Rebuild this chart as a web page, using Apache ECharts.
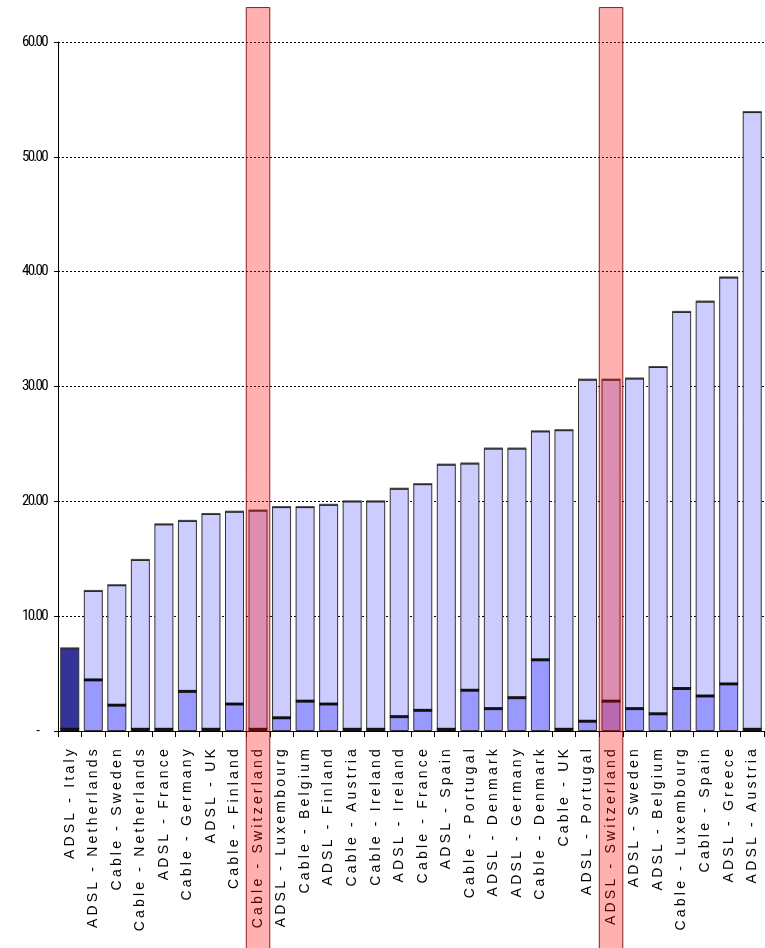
<!DOCTYPE html>
<html>
<head>
<meta charset="utf-8">
<script src="https://cdn.jsdelivr.net/npm/echarts@6/dist/echarts.min.js"></script>
<style>
  html, body { margin: 0; padding: 0; background: #fff; }
  #main { width: 765px; height: 948px; }
</style>
</head>
<body>
<div id="main"></div>
<script>
const categories = [
  'ADSL - Italy', 'ADSL - Netherlands', 'Cable - Sweden', 'Cable - Netherlands',
  'ADSL - France', 'Cable - Germany', 'ADSL - UK', 'Cable - Finland',
  'Cable - Switzerland', 'ADSL - Luxembourg', 'Cable - Belgium', 'ADSL - Finland',
  'Cable - Austria', 'Cable - Ireland', 'ADSL - Ireland', 'Cable - France',
  'ADSL - Spain', 'Cable - Portugal', 'ADSL - Denmark', 'ADSL - Germany',
  'Cable - Denmark', 'Cable - UK', 'ADSL - Portugal', 'ADSL - Switzerland',
  'ADSL - Sweden', 'ADSL - Belgium', 'Cable - Luxembourg', 'Cable - Spain',
  'ADSL - Greece', 'ADSL - Austria'
];
const totalValues = [
  7.2, 12.2, 12.7, 14.9,
  18.0, 18.3, 18.9, 19.1,
  19.2, 19.5, 19.5, 19.7,
  20.0, 20.0, 21.1, 21.5,
  23.2, 23.3, 24.6, 24.6,
  26.1, 26.2, 30.6, 30.6,
  30.7, 31.7, 36.5, 37.4,
  39.5, 53.9
];
const lowerValues = [
  0.15, 4.45, 2.25, 0.15,
  0.15, 3.45, 0.15, 2.35,
  0.15, 1.15, 2.6, 2.35,
  0.15, 0.15, 1.25, 1.8,
  0.15, 3.55, 1.95, 2.9,
  6.2, 0.15, 0.85, 2.6,
  1.95, 1.5, 3.7, 3.05,
  4.1, 0.15
];
const highlightedCategories = ['Cable - Switzerland', 'ADSL - Switzerland'];
const solidCategory = 'ADSL - Italy';

const upperValues = totalValues.map((t, i) => +(t - lowerValues[i]).toFixed(2));

// Letter spacing to mimic the widely spaced category labels and condensed value labels
(function () {
  const proto = CanvasRenderingContext2D.prototype;
  const origFill = proto.fillText;
  proto.fillText = function (t, x, y, m) {
    const f = this.font || '';
    if ('letterSpacing' in this) {
      if (f.indexOf('Roboto Condensed') >= 0) this.letterSpacing = '-1.7px';
      else if (f.indexOf('Liberation Sans') >= 0) this.letterSpacing = '3.2px';
      else this.letterSpacing = '0px';
    }
    return m === undefined ? origFill.call(this, t, x, y) : origFill.call(this, t, x, y, m);
  };
})();

const chart = echarts.init(document.getElementById('main'), null, { renderer: 'canvas' });

const BAR_W = 19;

const option = {
  animation: false,
  backgroundColor: '#ffffff',
  grid: { left: 58, right: 1, top: 42, bottom: 217, containLabel: false },
  xAxis: {
    type: 'category',
    data: categories,
    axisLine: { show: true, lineStyle: { color: '#000', width: 1 } },
    axisTick: { show: true, length: 6, lineStyle: { color: '#000' } },
    axisLabel: {
      rotate: 90,
      interval: 0,
      margin: 15,
      color: '#000',
      fontSize: 14,
      fontFamily: 'Liberation Sans'
    }
  },
  yAxis: {
    type: 'value',
    min: 0,
    max: 60,
    interval: 10,
    axisLine: { show: true, lineStyle: { color: '#000', width: 1 } },
    axisTick: { show: true, length: 4, lineStyle: { color: '#000' } },
    splitLine: { show: true, lineStyle: { color: '#000', type: [2, 2], width: 1 } },
    axisLabel: {
      margin: 11,
      color: '#000',
      fontSize: 15,
      fontFamily: 'Roboto Condensed, Arial, sans-serif',
      formatter: v => (v === 0 ? '-     ' : v.toFixed(2))
    }
  },
  series: [
    {
      name: 'lower',
      type: 'bar',
      stack: 'total',
      barWidth: BAR_W,
      data: lowerValues,
      itemStyle: { color: '#9999ff', borderColor: '#333', borderWidth: 1 },
      z: 2
    },
    {
      name: 'upper',
      type: 'bar',
      stack: 'total',
      barWidth: BAR_W,
      data: upperValues.map((v, i) => categories[i] === solidCategory
        ? { value: v, itemStyle: { color: '#333399' } }
        : v),
      itemStyle: { color: '#ccccff', borderColor: '#333', borderWidth: 1 },
      z: 2
    },
    {
      name: 'split',
      type: 'scatter',
      data: lowerValues,
      symbol: 'rect',
      symbolSize: [BAR_W, 3],
      itemStyle: { color: '#000' },
      silent: true,
      z: 3
    },
    {
      name: 'top',
      type: 'scatter',
      data: totalValues,
      symbol: 'rect',
      symbolSize: [BAR_W, 2],
      itemStyle: { color: '#222' },
      silent: true,
      z: 3
    }
  ]
};

chart.setOption(option);

function buildHighlights() {
  const step = chart.convertToPixel({ xAxisIndex: 0 }, categories[1]) -
               chart.convertToPixel({ xAxisIndex: 0 }, categories[0]);
  const top = chart.convertToPixel({ yAxisIndex: 0 }, 63);
  const bottom = chart.getHeight();
  const rects = highlightedCategories.map(name => {
    const cx = chart.convertToPixel({ xAxisIndex: 0 }, name);
    return {
      type: 'rect',
      silent: true,
      z: 100,
      shape: { x: cx - step / 2, y: top, width: step, height: bottom - top + 2 },
      style: { fill: 'rgba(255,0,0,0.31)', stroke: 'rgba(110,0,0,0.85)', lineWidth: 1 }
    };
  });
  chart.setOption({ graphic: rects });
}
buildHighlights();
</script>
</body>
</html>
